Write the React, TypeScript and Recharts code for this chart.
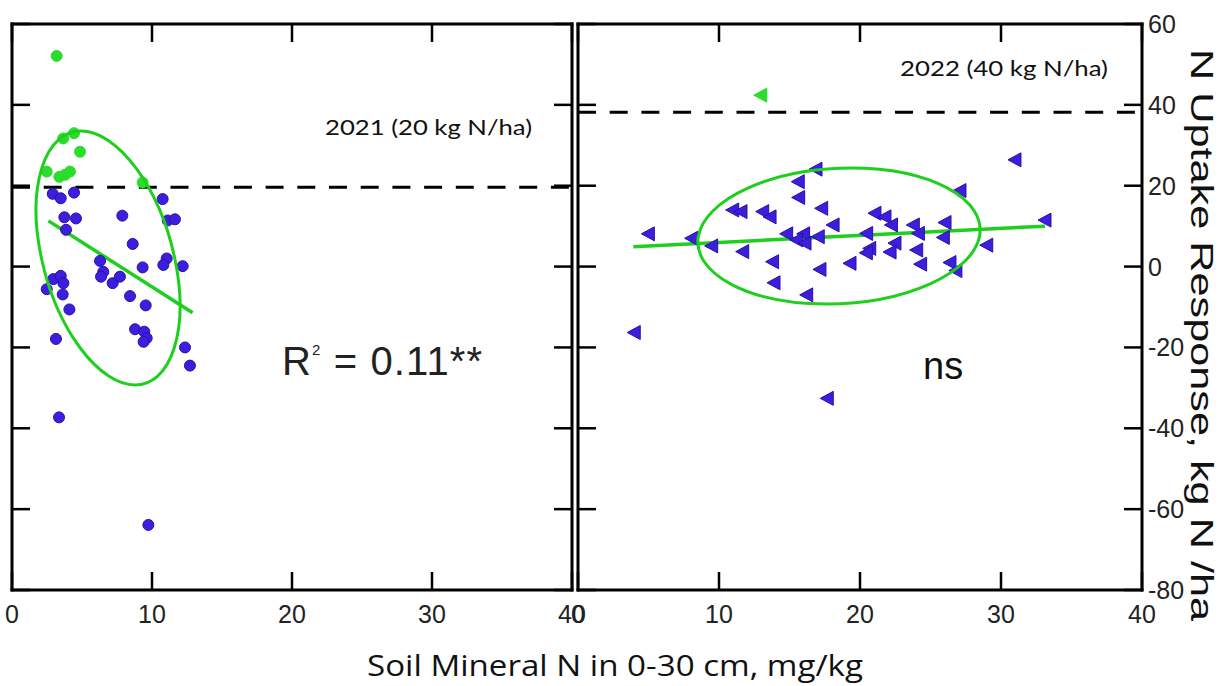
import React from 'react';
import { ScatterChart, Scatter, XAxis, YAxis, ReferenceLine } from 'recharts';

// Shared axis scales
const X_DOMAIN: [number, number] = [0, 40];
const Y_DOMAIN: [number, number] = [-80, 60];
const X_TICKS = [0, 10, 20, 30, 40];
const Y_TICKS = [-80, -60, -40, -20, 0, 20, 40, 60];

// 2021 season, 20 kg N/ha
const soilN2021 = [
  3.19, 3.66, 4.43, 4.86, 2.48, 3.38, 3.79, 4.14, 9.33,
  2.91, 3.48, 4.43, 10.76, 3.74, 4.57, 7.88, 11.12, 11.64, 3.86,
  8.62, 6.29, 11.05, 10.81, 12.19, 9.33, 6.52, 6.36, 7.19, 7.71,
  2.95, 3.48, 3.67, 2.48, 3.62, 4.1, 8.43, 9.55, 8.79, 9.45,
  9.62, 9.4, 3.14, 12.36, 12.71, 3.36, 9.74,
];
const response2021 = [
  52.1, 31.7, 33.0, 28.4, 23.5, 22.2, 22.7, 23.5, 20.8,
  18.0, 16.9, 18.3, 16.7, 12.2, 11.9, 12.6, 11.4, 11.7, 9.1,
  5.6, 1.4, 2.0, 0.4, 0.1, -0.2, -1.3, -2.5, -4.1, -2.5,
  -3.1, -2.3, -4.1, -5.6, -6.9, -10.6, -7.3, -9.6, -15.5, -16.1,
  -17.7, -18.6, -17.9, -20.0, -24.5, -37.3, -63.9,
];
const threshold2021 = 19.6;
const fit2021X = [2.6, 12.9];
const fit2021Y = [11.3, -11.4];
// confidence ellipse: centre, then the ends of two conjugate semi-diameters
const ellipse2021X = [6.86, 4.93, 11.62];
const ellipse2021Y = [2.13, 33.54, 2.13];

// 2022 season, 40 kg N/ha
const soilN2022 = [
  12.96,
  4.99, 8.06, 9.48, 11.68, 10.97, 11.56, 13.1, 13.62, 13.8, 13.9,
  15.62, 16.88, 15.65, 17.28, 18.09, 14.8, 16.0, 15.51, 16.1, 17.04,
  17.16, 16.22, 19.29, 20.47, 21.06, 21.77, 20.69, 20.45, 22.23, 23.78,
  24.14, 26.03, 25.91, 27.09, 28.99, 22.48, 22.13, 24.02, 24.3, 26.38,
  26.8, 30.99, 33.12, 3.99, 17.68,
];
const response2022 = [
  42.4,
  8.1, 7.0, 5.1, 3.7, 14.0, 13.6, 13.6, 12.3, 1.2, -4.0,
  21.0, 24.1, 17.1, 14.4, 10.3, 8.1, 8.1, 6.6, 5.8, 7.4,
  -0.7, -7.0, 0.8, 8.2, 13.2, 12.3, 4.5, 3.4, 10.3, 10.3,
  8.2, 10.9, 7.2, 18.8, 5.3, 5.8, 3.6, 4.1, 0.6, 1.0,
  -1.0, 26.4, 11.5, -16.3, -32.6,
];
const threshold2022 = 38.2;
const fit2022X = [3.92, 33.12];
const fit2022Y = [4.9, 10.0];
const ellipse2022X = [18.51, 19.39, 28.48];
const ellipse2022Y = [7.57, 24.39, 7.57];

const BLUE = '#3c1fdc';
const BLUE_EDGE = '#2a0fa8';
const GREEN_DOT = '#2bdc2b';
const GREEN_LINE = '#1ecf1e';
const TICK_LEN = 18;
const AXIS_LINE = { stroke: '#000', strokeWidth: 3, strokeLinecap: 'square' as const };
const TICK_FONT = '"Liberation Sans", Arial, sans-serif';

// Ticks point into the plot; labels (where shown) sit outside.
const BottomTick = (props: any) => {
  const { x, y, payload } = props;
  return (
    <g>
      <line x1={x} x2={x} y1={y} y2={y - TICK_LEN} stroke="#000" strokeWidth={2.5} />
      <text x={x} y={y + 33} textAnchor="middle" fontSize={25} fontFamily={TICK_FONT} fill="#222">
        {payload.value}
      </text>
    </g>
  );
};
const TopTick = (props: any) => (
  <line x1={props.x} x2={props.x} y1={props.y} y2={props.y + TICK_LEN} stroke="#000" strokeWidth={2.5} />
);
const LeftTick = (props: any) => (
  <line x1={props.x} x2={props.x + TICK_LEN} y1={props.y} y2={props.y} stroke="#000" strokeWidth={2.5} />
);
const RightTick = (props: any) => (
  <line x1={props.x} x2={props.x - TICK_LEN} y1={props.y} y2={props.y} stroke="#000" strokeWidth={2.5} />
);
const RightLabelTick = (props: any) => {
  const { x, y, payload } = props;
  return (
    <g>
      <line x1={x} x2={x - TICK_LEN} y1={y} y2={y} stroke="#000" strokeWidth={2.5} />
      <text x={x + 6} y={y} dy={9} textAnchor="start" fontSize={25} fontFamily={TICK_FONT} fill="#222">
        {payload.value}
      </text>
    </g>
  );
};

const makeDot = (fill: string, stroke: string) => (props: any) => (
  <circle cx={props.cx} cy={props.cy} r={5.5} fill={fill} stroke={stroke} strokeWidth={1} />
);
const makeLeftTriangle = (fill: string, stroke: string) => (props: any) => {
  const { cx, cy } = props;
  return (
    <path
      d={`M${cx - 7},${cy} L${cx + 6},${cy - 7} L${cx + 6},${cy + 7} Z`}
      fill={fill}
      stroke={stroke}
      strokeWidth={1}
      strokeLinejoin="round"
    />
  );
};
const NoMark = () => <g />;

// Ellipse through the projected centre and conjugate semi-diameter ends.
const ConjugateEllipse = (props: any) => {
  const pts = props.points as { x: number; y: number }[] | undefined;
  if (!pts || pts.length < 3) return null;
  const [c, a, b] = pts;
  const m = `matrix(${a.x - c.x} ${a.y - c.y} ${b.x - c.x} ${b.y - c.y} ${c.x} ${c.y})`;
  return (
    <ellipse
      cx={0}
      cy={0}
      rx={1}
      ry={1}
      transform={m}
      fill="none"
      stroke={props.stroke}
      strokeWidth={props.strokeWidth}
      vectorEffect="non-scaling-stroke"
    />
  );
};

type PanelProps = {
  margin: { top: number; right: number; bottom: number; left: number };
  soilN: number[];
  response: number[];
  threshold: number;
  fitX: number[];
  fitY: number[];
  ellX: number[];
  ellY: number[];
  marker: 'circle' | 'triangle';
  labelledRightAxis: boolean;
};

const W = 1229;
const H = 686;

function Panel(p: PanelProps) {
  const points = p.soilN.map((x, i) => ({ x, y: p.response[i] }));
  const above = points.filter((d) => d.y > p.threshold);
  const below = points.filter((d) => d.y <= p.threshold);
  const ellipse = p.ellX.map((x, i) => ({ x, y: p.ellY[i] }));
  const make = p.marker === 'circle' ? makeDot : makeLeftTriangle;
  return (
    <div style={{ position: 'absolute', left: 0, top: 0 }}>
      <ScatterChart width={W} height={H} margin={p.margin}>
        <XAxis
          xAxisId="b"
          orientation="bottom"
          type="number"
          dataKey="x"
          domain={X_DOMAIN}
          ticks={X_TICKS}
          interval={0}
          tickSize={0}
          tickMargin={0}
          height={40}
          axisLine={AXIS_LINE}
          tickLine={false}
          tick={BottomTick}
          allowDataOverflow
        />
        <XAxis
          xAxisId="t"
          orientation="top"
          type="number"
          dataKey="x"
          domain={X_DOMAIN}
          ticks={X_TICKS}
          interval={0}
          tickSize={0}
          tickMargin={0}
          height={1}
          axisLine={AXIS_LINE}
          tickLine={false}
          tick={TopTick}
          allowDataOverflow
        />
        <YAxis
          yAxisId="l"
          orientation="left"
          type="number"
          dataKey="y"
          domain={Y_DOMAIN}
          ticks={Y_TICKS}
          interval={0}
          tickSize={0}
          tickMargin={0}
          width={1}
          axisLine={AXIS_LINE}
          tickLine={false}
          tick={LeftTick}
          allowDataOverflow
        />
        <YAxis
          yAxisId="r"
          orientation="right"
          type="number"
          dataKey="y"
          domain={Y_DOMAIN}
          ticks={Y_TICKS}
          interval={0}
          tickSize={0}
          tickMargin={0}
          width={p.labelledRightAxis ? 60 : 1}
          axisLine={AXIS_LINE}
          tickLine={false}
          tick={p.labelledRightAxis ? RightLabelTick : RightTick}
          allowDataOverflow
        />
        <ReferenceLine
          xAxisId="b"
          yAxisId="l"
          y={p.threshold}
          stroke="#000"
          strokeWidth={3}
          strokeDasharray="18 13.7"
        />
        <Scatter xAxisId="b" yAxisId="l" data={below} shape={make(BLUE, BLUE_EDGE)} isAnimationActive={false} />
        <Scatter xAxisId="b" yAxisId="l" data={above} shape={make(GREEN_DOT, GREEN_DOT)} isAnimationActive={false} />
        <Scatter
          xAxisId="b"
          yAxisId="l"
          data={ellipse}
          shape={NoMark}
          line={<ConjugateEllipse stroke={GREEN_LINE} strokeWidth={3} />}
          isAnimationActive={false}
        />
        <ReferenceLine
          xAxisId="b"
          yAxisId="l"
          segment={[
            { x: p.fitX[0], y: p.fitY[0] },
            { x: p.fitX[1], y: p.fitY[1] },
          ]}
          stroke={GREEN_LINE}
          strokeWidth={3.5}
        />
      </ScatterChart>
    </div>
  );
}

export default function App() {
  return (
    <div
      style={{
        position: 'absolute',
        left: 0,
        top: 0,
        width: W,
        height: H,
        background: '#fff',
        overflow: 'hidden',
      }}
    >
      <Panel
        margin={{ top: 23, left: 11, right: W - 572 - 1, bottom: 56 }}
        soilN={soilN2021}
        response={response2021}
        threshold={threshold2021}
        fitX={fit2021X}
        fitY={fit2021Y}
        ellX={ellipse2021X}
        ellY={ellipse2021Y}
        marker="circle"
        labelledRightAxis={false}
      />
      <Panel
        margin={{ top: 23, left: 577, right: W - 1142 - 60, bottom: 56 }}
        soilN={soilN2022}
        response={response2022}
        threshold={threshold2022}
        fitX={fit2022X}
        fitY={fit2022Y}
        ellX={ellipse2022X}
        ellY={ellipse2022Y}
        marker="triangle"
        labelledRightAxis={true}
      />
      <svg
        width={W}
        height={H}
        style={{ position: 'absolute', left: 0, top: 0, pointerEvents: 'none' }}
      >
        <text x={325} y={135} fontFamily="Lato, sans-serif" fontSize={22} textLength={207} lengthAdjust="spacingAndGlyphs" fill="#111">
          2021 (20 kg N/ha)
        </text>
        <text x={900} y={76} fontFamily="Lato, sans-serif" fontSize={22} textLength={208} lengthAdjust="spacingAndGlyphs" fill="#111">
          2022 (40 kg N/ha)
        </text>
        <text x={282} y={375} fontFamily={TICK_FONT} fontSize={40} fill="#222" textLength={200} lengthAdjust="spacing">
          R
          <tspan fontSize={15} dy={-20}>2</tspan>
          <tspan dy={20}> = 0.11**</tspan>
        </text>
        <text x={923} y={379} fontFamily={TICK_FONT} fontSize={38} fill="#111">
          ns
        </text>
        <text
          x={615}
          y={676}
          textAnchor="middle"
          fontFamily='"Open Sans", sans-serif'
          fontSize={29}
          textLength={496}
          lengthAdjust="spacingAndGlyphs"
          fill="#111"
        >
          Soil Mineral N in 0-30 cm, mg/kg
        </text>
        <text
          transform="translate(1202, 335) rotate(90)"
          textAnchor="middle"
          dominantBaseline="central"
          fontFamily={TICK_FONT}
          fontSize={32}
          textLength={572}
          lengthAdjust="spacingAndGlyphs"
          fill="#111"
        >
          N Uptake Response, kg N /ha
        </text>
      </svg>
    </div>
  );
}
